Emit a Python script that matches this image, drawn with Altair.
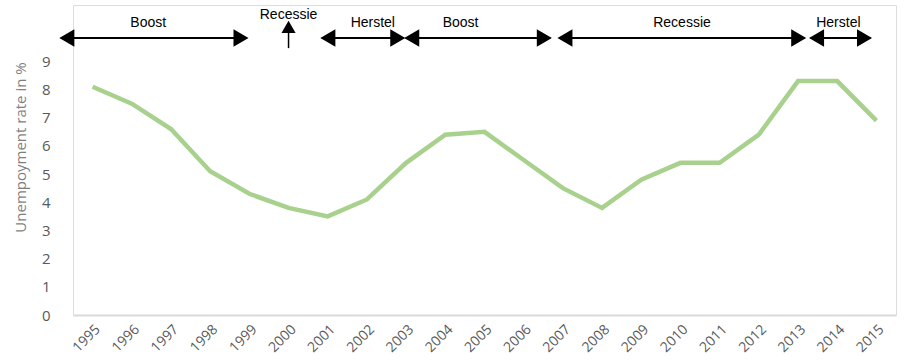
import altair as alt
import pandas as pd

years = list(range(1995, 2016))
rates = [8.1, 7.5, 6.6, 5.1, 4.3, 3.8, 3.5, 4.1, 5.4, 6.4, 6.5,
         5.5, 4.5, 3.8, 4.8, 5.4, 5.4, 6.4, 8.3, 8.3, 6.9]

# phase annotations (double arrows)
phase_labels = ["Boost", "Herstel", "Boost", "Recessie", "Herstel"]
phase_start = [1994.19, 2000.85, 2002.99, 2006.9, 2013.32]
phase_end = [1998.94, 2002.94, 2006.68, 2013.17, 2014.85]
phase_label_x = [1996.42, 2002.15, 2004.39, 2010.04, 2014.03]
arrow_y = 9.83
label_y = 10.36

# single up arrow
rec_x = [2000.0]
rec_y0 = [9.47]
rec_y1 = [10.22]
rec_label_y = [10.65]

df = pd.DataFrame({"year": years, "rate": rates})
phases = pd.DataFrame({"label": phase_labels, "x0": phase_start, "x1": phase_end,
                       "lx": phase_label_x, "y": [arrow_y] * 5, "ly": [label_y] * 5})
rec = pd.DataFrame({"x": rec_x, "y0": rec_y0, "y1": rec_y1, "ly": rec_label_y, "label": ["Recessie"]})

xscale = alt.Scale(domain=[1994.5, 2015.5], nice=False, zero=False)
yscale = alt.Scale(domain=[0, 11], nice=False)

line = alt.Chart(df).mark_line(color="#a9d18e", strokeWidth=4.5, strokeJoin="miter").encode(
    x=alt.X("year:Q", scale=xscale,
            axis=alt.Axis(values=years, format="d", labelAngle=-45, labelAlign="right",
                          labelBaseline="top", labelFont="Open Sans", labelFontSize=14,
                          labelColor="#595959", ticks=False, grid=False,
                          domainColor="#d9d9d9", domainWidth=2, labelPadding=7,
                          title=None, labelOverlap=False, labelBound=False, labelFlush=False)),
    y=alt.Y("rate:Q", scale=yscale,
            axis=alt.Axis(values=[0, 1, 2, 3, 4, 5, 6, 7, 8, 9], format="d", grid=False,
                          ticks=False, domain=False,
                          labelFont="Open Sans", labelFontSize=15, labelColor="#595959",
                          labelPadding=23, labelOverlap=False, labelBound=False, labelFlush=False,
                          title="Unempoyment rate in %",
                          titleFont="Open Sans", titleFontSize=15, titleFontWeight="normal",
                          titleColor="#7f7f7f", titleX=-53, titleY=142,
                          titleBaseline="middle", titleAlign="center", titleAngle=270)),
)

X0 = alt.X("x0:Q", scale=xscale, axis=None)
X1 = alt.X("x1:Q", scale=xscale, axis=None)
Yp = alt.Y("y:Q", scale=yscale, axis=None)

rules = alt.Chart(phases).mark_rule(color="black", strokeWidth=2).encode(x=X0, x2="x1:Q", y=Yp)
left_heads = alt.Chart(phases).mark_point(shape="triangle-left", filled=True, color="black",
                                          size=300, opacity=1, xOffset=6).encode(x=X0, y=Yp)
right_heads = alt.Chart(phases).mark_point(shape="triangle-right", filled=True, color="black",
                                           size=300, opacity=1, xOffset=-6).encode(x=X1, y=Yp)
phase_text = alt.Chart(phases).mark_text(font="Liberation Sans", fontSize=14, color="black").encode(
    x=alt.X("lx:Q", scale=xscale, axis=None), y=alt.Y("ly:Q", scale=yscale, axis=None), text="label:N")

rec_rule = alt.Chart(rec).mark_rule(color="black", strokeWidth=1.5).encode(
    x=alt.X("x:Q", scale=xscale, axis=None), y=alt.Y("y0:Q", scale=yscale, axis=None), y2="y1:Q")
rec_head = alt.Chart(rec).mark_point(shape="triangle-up", filled=True, color="black",
                                     size=200, opacity=1).encode(
    x=alt.X("x:Q", scale=xscale, axis=None), y=alt.Y("y1:Q", scale=yscale, axis=None))
rec_text = alt.Chart(rec).mark_text(font="Liberation Sans", fontSize=14, color="black").encode(
    x=alt.X("x:Q", scale=xscale, axis=None), y=alt.Y("ly:Q", scale=yscale, axis=None), text="label:N")

chart = alt.layer(line, rules, left_heads, right_heads, phase_text, rec_rule, rec_head, rec_text).resolve_axis(
    x="independent", y="independent"
).properties(
    width=823, height=310,
    autosize=alt.AutoSizeParams(type="none"),
    padding={"left": 73, "top": 5, "right": 8, "bottom": 47},
).configure_view(stroke="transparent", strokeWidth=0).configure(background="white")

chart.save("out.html", embed_options={"renderer": "svg", "actions": False})
